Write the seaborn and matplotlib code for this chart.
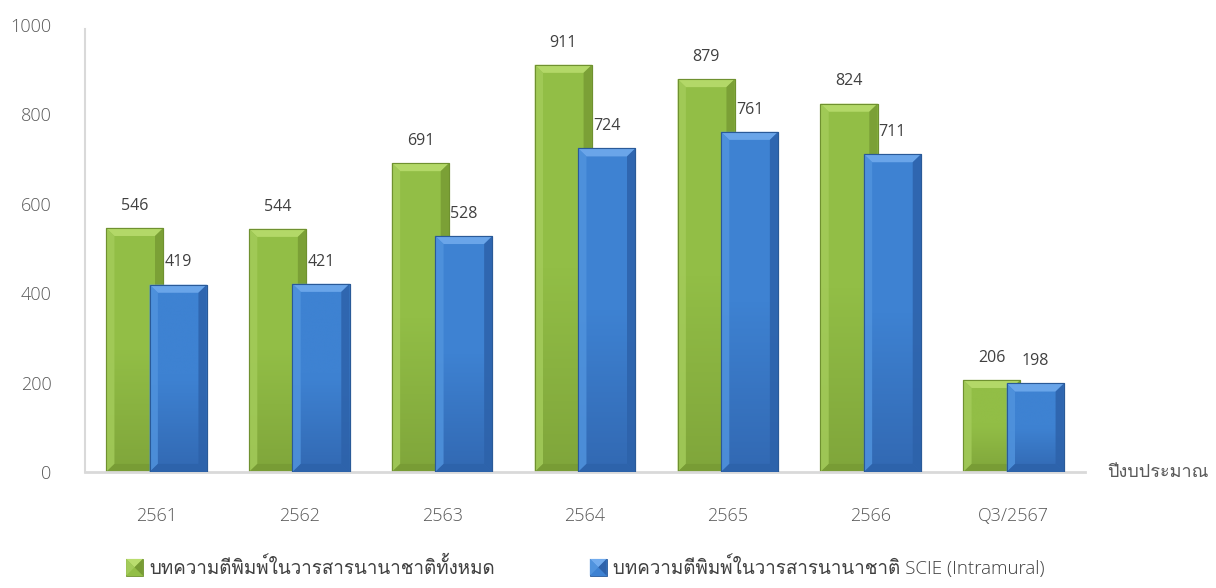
import numpy as np
import pandas as pd
import matplotlib
matplotlib.use("Agg")
import matplotlib.pyplot as plt
import seaborn as sns
from matplotlib.patches import Polygon
from matplotlib.legend_handler import HandlerBase
from matplotlib import font_manager as fm
from matplotlib.ft2font import FT2Font

# ---- data ----
years = ["2561", "2562", "2563", "2564", "2565", "2566", "Q3/2567"]
total_intl = [546, 544, 691, 911, 879, 824, 206]
scie_intramural = [419, 421, 528, 724, 761, 711, 198]
series_names = [
    "บทความตีพิมพ์ในวารสารนานาชาติทั้งหมด",
    "บทความตีพิมพ์ในวารสารนานาชาติ SCIE (Intramural)",
]
x_title = "ปีงบประมาณ"
y_ticks = [0, 200, 400, 600, 800, 1000]

df = pd.DataFrame({
    "year": years * 2,
    "count": total_intl + scie_intramural,
    "series": [series_names[0]] * len(years) + [series_names[1]] * len(years),
})

# colour sets: body, top bevel, left bevel, right/bottom bevel, outline, body bottom
GREEN = dict(face="#92BE46", top="#BADD6F", left="#A3CB5A", dark="#779B34",
             edge="#6F9130", bottom="#80A63B")
BLUE = dict(face="#3E82D2", top="#72ACEE", left="#5093DD", dark="#2D62AA",
            edge="#2A5A98", bottom="#3269B3")


def find_thai_font():
    for f in fm.fontManager.ttflist:
        try:
            if 0x0E1A in FT2Font(f.fname).get_charmap():
                return f.name
        except Exception:
            continue
    return None


sns.set_theme(style="white")
thai_font = find_thai_font()
families = ["Open Sans"] + ([thai_font] if thai_font else []) + ["DejaVu Sans"]
plt.rcParams["font.family"] = families

fig = plt.figure(figsize=(12.16, 5.88), dpi=100)
ax = fig.add_axes([85 / 1216, 1 - 472 / 588, 1000 / 1216, 447 / 588])

sns.barplot(data=df, x="year", y="count", hue="series",
            palette=[GREEN["face"], BLUE["face"]], saturation=1,
            errorbar=None, legend=False, width=0.8, ax=ax)

ax.set_xlim(-0.5, len(years) - 0.5)
ax.set_ylim(0, 1000)

# overlapping bars with bevelled faces
n = len(years)
bar_w = 0.40
offset = 0.152
bx = 0.058    # bevel width in category units
by = 18.0     # bevel height in data units
for k, patch in enumerate(ax.patches[: 2 * n]):
    level = k // n
    i = k % n
    col = GREEN if level == 0 else BLUE
    z = 2 + level
    x0 = i + (-offset if level == 0 else offset) - bar_w / 2
    x1 = x0 + bar_w
    h = patch.get_height()
    patch.set_x(x0)
    patch.set_width(bar_w)
    patch.set_zorder(z)
    patch.set_edgecolor(col["edge"])
    patch.set_linewidth(0.8)

    # vertical shading of the body
    grad = np.linspace(0, 1, 64).reshape(-1, 1)
    cmap = matplotlib.colors.LinearSegmentedColormap.from_list(
        "g", [col["bottom"], col["face"], col["face"]])
    im = ax.imshow(grad, cmap=cmap, origin="lower", aspect="auto",
                   extent=[x0, x1, 0, h], zorder=z + 0.01, interpolation="bicubic")
    im.set_clip_path(patch)

    y0, y1 = 0, h
    polys = [
        ([(x0, y1), (x1, y1), (x1 - bx, y1 - by), (x0 + bx, y1 - by)], col["top"]),
        ([(x0, y0), (x0, y1), (x0 + bx, y1 - by), (x0 + bx, y0 + by)], col["left"]),
        ([(x1, y0), (x1, y1), (x1 - bx, y1 - by), (x1 - bx, y0 + by)], col["dark"]),
        ([(x0, y0), (x1, y0), (x1 - bx, y0 + by), (x0 + bx, y0 + by)], col["dark"]),
    ]
    for pts, c in polys:
        ax.add_patch(Polygon(pts, closed=True, facecolor=c, edgecolor="none",
                             zorder=z + 0.02, alpha=0.85))
    ax.add_patch(Polygon([(x0, y0), (x0, y1), (x1, y1), (x1, y0)], closed=True,
                         facecolor="none", edgecolor=col["edge"], lw=0.8,
                         zorder=z + 0.03))

    ax.annotate(f"{int(h)}", xy=((x0 + x1) / 2, h), xytext=(0, 16),
                textcoords="offset points", ha="center", va="center",
                fontsize=11.5, color="#404040", zorder=5)

# axes styling
for side in ("top", "right"):
    ax.spines[side].set_visible(False)
ax.spines["left"].set_color("#D9D9D9")
ax.spines["left"].set_linewidth(1.5)
ax.spines["bottom"].set_color("#D9D9D9")
ax.spines["bottom"].set_linewidth(2)
ax.spines["left"].set_bounds(0, 990)

ax.set_yticks(y_ticks)
ax.set_yticklabels([str(v) for v in y_ticks], fontweight="light")
ax.set_xticks(range(n))
ax.set_xticklabels(years, fontweight="light")
ax.tick_params(axis="y", length=0, pad=24, labelsize=13, labelcolor="#595959")
ax.tick_params(axis="x", length=0, pad=25, labelsize=13, labelcolor="#595959")
ax.set_xlabel("")
ax.set_ylabel("")
ax.grid(False)

ax.text(1.022, 0, x_title, transform=ax.transAxes, ha="left", va="center",
        fontsize=13, color="#595959", fontweight="light")


class BevelHandler(HandlerBase):
    def __init__(self, col):
        super().__init__()
        self.col = col

    def create_artists(self, legend, orig_handle, xdescent, ydescent, width,
                       height, fontsize, trans):
        s = height
        x0 = -xdescent + (width - s) / 2
        y0 = -ydescent
        x1, y1 = x0 + s, y0 + s
        cx, cy = (x0 + x1) / 2, (y0 + y1) / 2
        c = self.col
        arts = [
            Polygon([(x0, y0), (x1, y0), (x1, y1), (x0, y1)], facecolor=c["face"],
                    edgecolor=c["edge"], lw=0.6, transform=trans),
            Polygon([(x0, y1), (x1, y1), (cx, cy)], facecolor=c["top"],
                    edgecolor="none", transform=trans),
            Polygon([(x0, y0), (x0, y1), (cx, cy)], facecolor=c["left"],
                    edgecolor="none", transform=trans),
            Polygon([(x1, y0), (x1, y1), (cx, cy)], facecolor=c["dark"],
                    edgecolor="none", transform=trans),
        ]
        return arts


h1 = Polygon([(0, 0)], closed=True)
h2 = Polygon([(0, 0)], closed=True)
leg = ax.legend([h1, h2], series_names, loc="center", ncol=2,
                bbox_to_anchor=(0.5, -0.21), frameon=False,
                handler_map={h1: BevelHandler(GREEN), h2: BevelHandler(BLUE)},
                handlelength=1.0, handleheight=1.0, handletextpad=0.3,
                columnspacing=5.0, prop={"size": 13.5, "weight": "light"},
                labelcolor="#404040")

fig.savefig("out.png", dpi=100, facecolor="white")
